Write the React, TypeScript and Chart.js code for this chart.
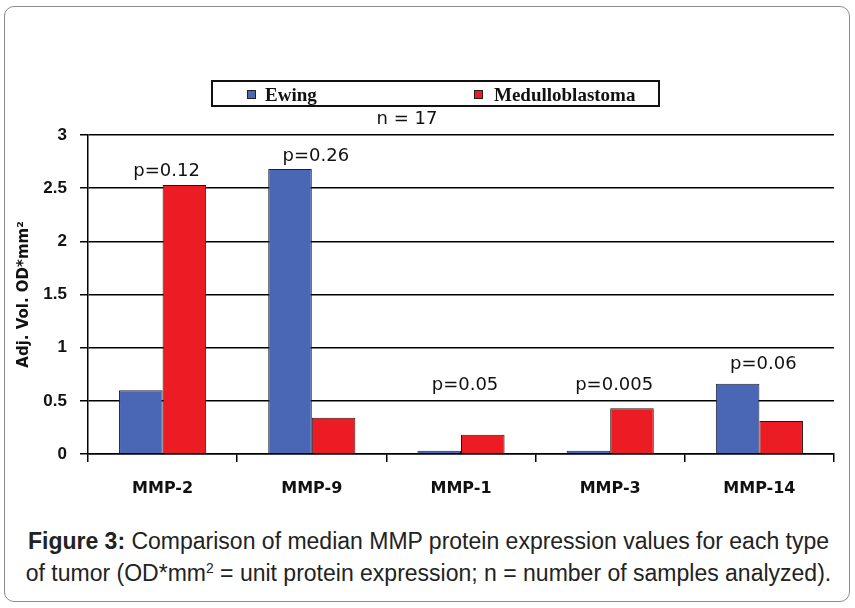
import React, { useEffect, useRef } from "react";
import { Chart, registerables } from "chart.js";

Chart.register(...registerables);

const categories = ["MMP-2", "MMP-9", "MMP-1", "MMP-3", "MMP-14"];
const seriesNames = ["Ewing", "Medulloblastoma"];
const ewing = [0.6, 2.68, 0.03, 0.03, 0.66];
const medulloblastoma = [2.53, 0.34, 0.18, 0.43, 0.31];
const pLabels = ["p=0.12", "p=0.26", "p=0.05", "p=0.005", "p=0.06"];
const pLabelY = [2.66, 2.8, 0.65, 0.65, 0.84];
const sampleNote = "n = 17";
const yTitle = "Adj. Vol. OD*mm\u00B2";

const BLUE = "#4a67b5";
const RED = "#ec1c24";

const overlayPlugin = {
  id: "overlay",
  afterDraw(chart: any) {
    const ctx = chart.ctx;
    const xs = chart.scales.x;
    const ys = chart.scales.y;
    ctx.save();
    // p-value labels
    ctx.fillStyle = "#111";
    ctx.font = "18px 'DejaVu Sans'";
    ctx.textAlign = "center";
    ctx.textBaseline = "middle";
    pLabels.forEach((t, i) => {
      ctx.fillText(t, xs.getPixelForValue(i) + 4, ys.getPixelForValue(pLabelY[i]));
    });
    // n = 17
    ctx.font = "18px 'DejaVu Sans'";
    ctx.fillText(sampleNote, 407, 119);
    // legend box
    ctx.fillStyle = "#ffffff";
    ctx.fillRect(212, 81, 447, 25);
    ctx.strokeStyle = "#111";
    ctx.lineWidth = 2;
    ctx.strokeRect(212, 81, 447, 25);
    const markerX = [247, 474];
    const textX = [265, 494];
    chart.data.datasets.forEach((ds: any, i: number) => {
      ctx.fillStyle = ds.backgroundColor;
      ctx.fillRect(markerX[i], 90, 9, 9);
      ctx.strokeStyle = "#222";
      ctx.lineWidth = 1;
      ctx.strokeRect(markerX[i] + 0.5, 90.5, 8, 8);
      ctx.fillStyle = "#111";
      ctx.font = "bold 19px 'Liberation Serif'";
      ctx.textAlign = "left";
      ctx.textBaseline = "alphabetic";
      ctx.fillText(ds.label, textX[i], 101);
    });
    ctx.restore();
  },
};

export default function App() {
  const ref = useRef<HTMLCanvasElement | null>(null);
  useEffect(() => {
    if (!ref.current) return;
    const chart = new Chart(ref.current, {
      type: "bar",
      data: {
        labels: categories,
        datasets: [
          {
            label: seriesNames[0],
            data: ewing,
            backgroundColor: BLUE,
            borderColor: "#1c2033",
            borderWidth: 1,
            categoryPercentage: 0.584,
            barPercentage: 1.0,
          },
          {
            label: seriesNames[1],
            data: medulloblastoma,
            backgroundColor: RED,
            borderColor: "#2a1212",
            borderWidth: 1,
            categoryPercentage: 0.584,
            barPercentage: 1.0,
          },
        ],
      },
      options: {
        animation: false,
        responsive: true,
        maintainAspectRatio: false,
        layout: { padding: { left: 0, right: 21, top: 135, bottom: 0 } },
        plugins: {
          legend: { display: false },
          tooltip: { enabled: false },
        },
        scales: {
          x: {
            afterFit: (s: any) => {
              s.height = 56;
            },
            grid: {
              display: true,
              drawOnChartArea: false,
              drawTicks: true,
              tickLength: 8,
              color: "#000",
              lineWidth: 1.5,
            },
            border: { display: true, color: "#000", width: 1.5 },
            ticks: {
              color: "#111",
              font: { family: "'DejaVu Sans'", size: 16, weight: "bold" },
              padding: 17,
              maxRotation: 0,
            },
          },
          y: {
            min: 0,
            max: 3,
            afterFit: (s: any) => {
              s.width = 88;
            },
            grid: {
              color: "#000",
              lineWidth: 1.5,
              tickLength: 8,
            },
            border: { display: true, color: "#000", width: 1.5 },
            ticks: {
              stepSize: 0.5,
              color: "#111",
              font: { family: "'Liberation Sans'", size: 17, weight: "bold" },
              padding: 13,
              callback: (v: any) => `${v}`,
            },
            title: {
              display: true,
              text: yTitle,
              color: "#111",
              font: { family: "'DejaVu Sans'", size: 15, weight: "bold" },
              padding: { top: 15, bottom: 0 },
            },
          },
        },
      },
      plugins: [overlayPlugin],
    });
    return () => chart.destroy();
  }, []);

  return (
    <div
      style={{
        position: "absolute",
        left: 0,
        top: 0,
        width: 855,
        height: 608,
        background: "#fff",
        fontFamily: "'Liberation Sans', Arial, sans-serif",
        color: "#222",
      }}
    >
      <div
        style={{
          position: "absolute",
          left: 4,
          top: 6,
          width: 846,
          height: 596,
          boxSizing: "border-box",
          border: "1.5px solid #8c8c8c",
          borderRadius: 10,
        }}
      />
      <div style={{ position: "absolute", left: 0, top: 0, width: 855, height: 510 }}>
        <canvas ref={ref} />
      </div>
      <div
        style={{
          position: "absolute",
          left: 0,
          top: 525,
          width: 857,
          fontSize: 23,
          lineHeight: "32px",
          textAlign: "center",
          whiteSpace: "nowrap",
        }}
      >
        <div>
          <b>Figure 3:</b> Comparison of median MMP protein expression values for each type
        </div>
        <div>
          of tumor (OD*mm
          <sup style={{ fontSize: "0.6em", lineHeight: 0, verticalAlign: "0.6em" }}>2</sup> = unit
          protein expression; n = number of samples analyzed).
        </div>
      </div>
    </div>
  );
}
